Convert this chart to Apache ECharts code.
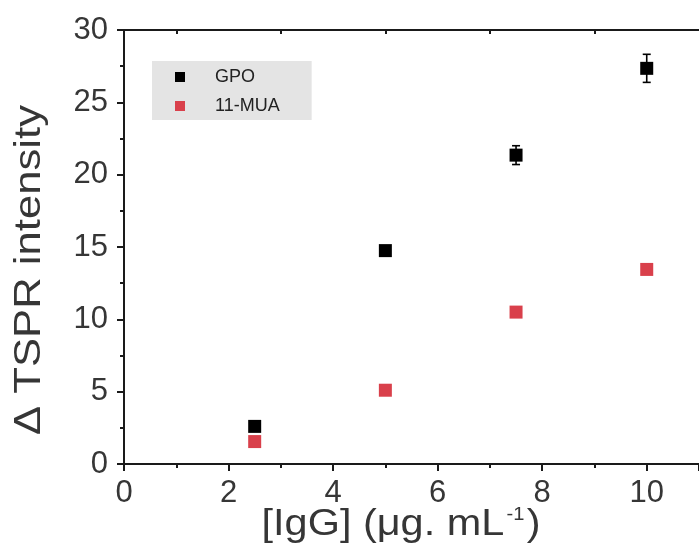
<!DOCTYPE html>
<html>
<head>
<meta charset="utf-8">
<script src="https://cdn.jsdelivr.net/npm/echarts@6/dist/echarts.min.js"></script>
<style>
  html, body { margin: 0; padding: 0; background: #fff; }
  #chart { width: 699px; height: 546px; }
</style>
</head>
<body>
<div id="chart"></div>
<script>
// IgG concentration (µg/mL)
const concentrations = [2.5, 5, 7.5, 10];
// ΔTSPR intensity responses and their standard deviations
const gpoValues = [2.6, 14.75, 21.35, 27.35];
const gpoErrors = [0.2, 0.2, 0.65, 0.97];
const muaValues = [1.55, 5.1, 10.5, 13.45];
const muaErrors = [0.2, 0.2, 0.2, 0.2];
const seriesNames = ['GPO', '11-MUA'];
const xTitle = ['[IgG] (μg. mL', '-1', ')'];
const yTitle = 'Δ TSPR intensity';

const FONT = '"Liberation Sans", Arial, sans-serif';
const AXIS_COLOR = '#1a1a1a';
const TEXT_COLOR = '#363636';
const MUA_COLOR = '#d9404b';

function pairs(xs, ys) {
  return xs.map((x, i) => [x, ys[i]]);
}
function errorRows(xs, ys, es) {
  return xs.map((x, i) => [x, ys[i] - es[i], ys[i] + es[i]]);
}

function errorBarRenderer(color) {
  return function (params, api) {
    const x = api.value(0);
    const lo = api.coord([x, api.value(1)]);
    const hi = api.coord([x, api.value(2)]);
    const cap = 4;
    const style = { stroke: color, lineWidth: 1.6, fill: null };
    return {
      type: 'group',
      children: [
        { type: 'line', shape: { x1: lo[0], y1: lo[1], x2: hi[0], y2: hi[1] }, style },
        { type: 'line', shape: { x1: hi[0] - cap, y1: hi[1], x2: hi[0] + cap, y2: hi[1] }, style },
        { type: 'line', shape: { x1: lo[0] - cap, y1: lo[1], x2: lo[0] + cap, y2: lo[1] }, style }
      ]
    };
  };
}

const chart = echarts.init(document.getElementById('chart'), null, { renderer: 'canvas' });

const axisLine = { lineStyle: { color: AXIS_COLOR, width: 2 } };
const minorTick = { show: true, splitNumber: 2, length: 4, lineStyle: { color: AXIS_COLOR, width: 2 } };

const option = {
  backgroundColor: '#fff',
  animation: false,
  grid: { left: 124, top: 30, width: 583, height: 434, containLabel: false },
  legend: {
    data: seriesNames,
    orient: 'vertical',
    left: 152,
    top: 61,
    backgroundColor: '#e4e4e4',
    padding: [7, 32, 5, 23],
    itemWidth: 10,
    itemHeight: 10,
    itemGap: 11,
    textStyle: { fontFamily: FONT, fontSize: 18, color: '#222', padding: [0, 0, 0, 25] }
  },
  graphic: [
    {
      type: 'text',
      x: 401,
      y: 525,
      scaleX: 1.12,
      style: {
        text: '{t|' + xTitle[0] + '}{s|' + xTitle[1] + '}{t|' + xTitle[2] + '}',
        align: 'center',
        verticalAlign: 'middle',
        rich: {
          t: { fontFamily: FONT, fontSize: 37, fill: TEXT_COLOR },
          s: { fontFamily: FONT, fontSize: 18, fill: TEXT_COLOR, verticalAlign: 'top', padding: [0, 2, 16, 2] }
        }
      }
    },
    {
      type: 'text',
      x: 30,
      y: 270,
      rotation: Math.PI / 2,
      scaleX: 1.18,
      style: {
        text: yTitle,
        align: 'center',
        verticalAlign: 'middle',
        fontFamily: FONT,
        fontSize: 37,
        fill: TEXT_COLOR
      }
    }
  ],
  xAxis: [
    {
      type: 'value',
      position: 'bottom',
      min: 0,
      max: 11,
      interval: 2,
      splitLine: { show: false },
      axisLine,
      axisTick: { length: 7, lineStyle: { color: AXIS_COLOR, width: 2 } },
      minorTick,
      axisLabel: {
        showMaxLabel: false,
        margin: 14,
        fontFamily: FONT,
        fontSize: 31,
        color: TEXT_COLOR
      }
    },
    {
      type: 'value',
      position: 'top',
      min: 0,
      max: 11,
      interval: 2,
      splitLine: { show: false },
      axisLine,
      axisTick: { show: false, inside: true },
      minorTick,
      axisLabel: { show: false }
    }
  ],
  yAxis: {
    type: 'value',
    min: 0,
    max: 30,
    interval: 5,
    splitLine: { show: false },
    axisLine,
    axisTick: { length: 7, lineStyle: { color: AXIS_COLOR, width: 2 } },
    minorTick,
    axisLabel: {
      margin: 16,
      fontFamily: FONT,
      fontSize: 31,
      color: TEXT_COLOR
    }
  },
  series: [
    {
      name: 'GPO error',
      type: 'custom',
      renderItem: errorBarRenderer('#000'),
      data: errorRows(concentrations, gpoValues, gpoErrors),
      encode: { x: 0, y: [1, 2] },
      z: 2
    },
    {
      name: '11-MUA error',
      type: 'custom',
      renderItem: errorBarRenderer(MUA_COLOR),
      data: errorRows(concentrations, muaValues, muaErrors),
      encode: { x: 0, y: [1, 2] },
      z: 2
    },
    {
      name: 'GPO',
      type: 'scatter',
      symbol: 'rect',
      symbolSize: 13,
      itemStyle: { color: '#000', opacity: 1 },
      data: pairs(concentrations, gpoValues),
      z: 3
    },
    {
      name: '11-MUA',
      type: 'scatter',
      symbol: 'rect',
      symbolSize: 13,
      itemStyle: { color: MUA_COLOR, opacity: 1 },
      data: pairs(concentrations, muaValues),
      z: 3
    }
  ]
};

chart.setOption(option);
</script>
</body>
</html>
